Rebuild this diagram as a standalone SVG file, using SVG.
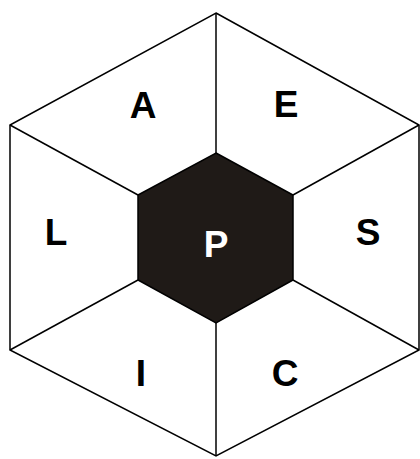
<svg xmlns="http://www.w3.org/2000/svg" width="420" height="459" viewBox="0 0 420 459">
<style>
.ln{stroke:#000;stroke-width:1.5;fill:none}
.lb{font-family:"Liberation Sans",Arial,sans-serif;font-weight:bold;font-size:37px;text-anchor:middle;fill:#000}
</style>
<rect width="420" height="459" fill="#fff"/>
<g id="outer"><polygon class="ln" points="216,13 419,125 419,350 216,456 10,350 10,125"/></g>
<g id="connectors">
<line class="ln" x1="216" y1="13" x2="216" y2="153"/>
<line class="ln" x1="419" y1="125" x2="293" y2="195"/>
<line class="ln" x1="419" y1="350" x2="293" y2="280"/>
<line class="ln" x1="216" y1="456" x2="216" y2="323"/>
<line class="ln" x1="10" y1="350" x2="138" y2="280"/>
<line class="ln" x1="10" y1="125" x2="138" y2="195"/>
</g>
<g id="P"><polygon points="216,153 293,195 293,280 216,323 138,280 138,195" fill="#1f1a17" stroke="#000" stroke-width="1.5"/>
<text class="lb" x="216" y="257" style="fill:#fff">P</text></g>
<g id="A"><text class="lb" x="143" y="118">A</text></g>
<g id="E"><text class="lb" x="286" y="117">E</text></g>
<g id="L"><text class="lb" x="56" y="245">L</text></g>
<g id="S"><text class="lb" x="368" y="245">S</text></g>
<g id="I"><text class="lb" x="141" y="386">I</text></g>
<g id="C"><text class="lb" x="285" y="386">C</text></g>
</svg>
